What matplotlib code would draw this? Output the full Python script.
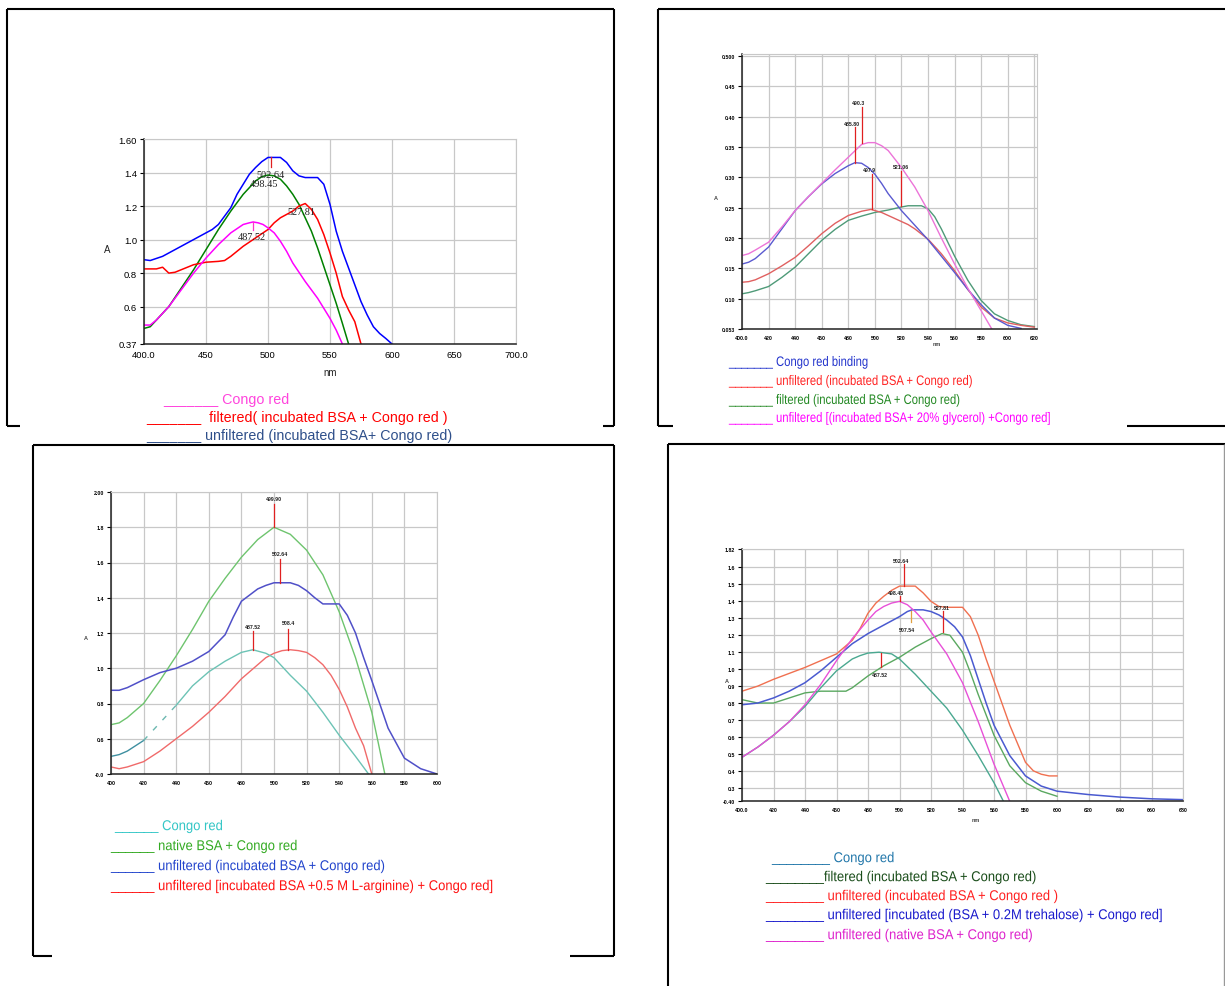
import numpy as np
import matplotlib
matplotlib.use("Agg")
import matplotlib.pyplot as plt
from matplotlib.lines import Line2D
from matplotlib.textpath import TextPath
from matplotlib.patches import PathPatch
from matplotlib.font_manager import FontProperties
from matplotlib.transforms import Affine2D

W, H = 1225, 987

# ---------------- panel 1 (top left) ----------------
p1_cr_nm = [400, 405, 410, 420, 430, 440, 450, 460, 470, 480, 485, 488, 492, 496, 500,
            505, 510, 515, 520, 530, 540, 550, 555, 560]
p1_cr_a = [0.49, 0.49, 0.52, 0.60, 0.70, 0.80, 0.89, 0.97, 1.04, 1.09, 1.10, 1.105, 1.10,
           1.09, 1.07, 1.04, 0.99, 0.93, 0.86, 0.75, 0.65, 0.53, 0.46, 0.377]
p1_native_nm = [400, 405, 410, 420, 430, 440, 450, 460, 470, 480, 490, 495, 500, 505, 510,
                515, 520, 525, 530, 535, 540, 545, 550, 555, 560, 565]
p1_native_a = [0.47, 0.48, 0.52, 0.60, 0.71, 0.82, 0.94, 1.06, 1.17, 1.27, 1.35, 1.375, 1.385,
               1.38, 1.36, 1.32, 1.27, 1.21, 1.13, 1.05, 0.95, 0.84, 0.73, 0.62, 0.50, 0.377]
p1_filt_nm = [400, 405, 410, 415, 420, 425, 430, 440, 450, 460, 465, 470, 475, 480, 490, 500,
              505, 510, 515, 520, 525, 530, 535, 540, 545, 550, 555, 560, 565, 570, 575]
p1_filt_a = [0.825, 0.825, 0.825, 0.835, 0.80, 0.805, 0.82, 0.85, 0.865, 0.87, 0.875, 0.90,
             0.93, 0.96, 1.01, 1.06, 1.10, 1.13, 1.15, 1.17, 1.20, 1.215, 1.18, 1.12, 1.03,
             0.92, 0.80, 0.66, 0.58, 0.51, 0.377]
p1_unf_nm = [400, 405, 415, 425, 435, 445, 455, 460, 465, 470, 475, 480, 485, 490, 495, 500,
             505, 510, 515, 520, 525, 530, 535, 540, 545, 550, 555, 560, 565, 570, 575, 580,
             585, 590, 595, 600]
p1_unf_a = [0.88, 0.875, 0.90, 0.94, 0.98, 1.02, 1.06, 1.09, 1.14, 1.19, 1.27, 1.33, 1.39,
            1.43, 1.465, 1.49, 1.49, 1.49, 1.46, 1.41, 1.38, 1.37, 1.37, 1.37, 1.33, 1.21,
            1.05, 0.93, 0.83, 0.73, 0.63, 0.55, 0.48, 0.44, 0.41, 0.377]

# ---------------- panel 2 (top right) ----------------
p2_bind_nm = [400, 405, 410, 420, 430, 440, 450, 460, 470, 480, 485, 490, 495, 500, 505, 510,
              520, 530, 540, 550, 560, 570, 580, 590, 600, 610]
p2_bind_a = [0.157, 0.160, 0.166, 0.185, 0.215, 0.245, 0.268, 0.289, 0.306, 0.319, 0.324,
             0.323, 0.316, 0.305, 0.290, 0.273, 0.245, 0.221, 0.197, 0.170, 0.143, 0.115,
             0.090, 0.068, 0.056, 0.051]
p2_unf_nm = [400, 405, 410, 420, 430, 440, 450, 460, 470, 480, 490, 497, 505, 515, 525, 530,
             540, 550, 560, 570, 580, 590, 600, 610, 620]
p2_unf_a = [0.127, 0.128, 0.131, 0.141, 0.154, 0.168, 0.187, 0.207, 0.224, 0.237, 0.244,
            0.247, 0.242, 0.232, 0.222, 0.215, 0.198, 0.174, 0.146, 0.115, 0.086, 0.068,
            0.060, 0.056, 0.053]
p2_filt_nm = [400, 405, 410, 420, 430, 440, 450, 460, 470, 480, 490, 500, 510, 520, 525, 530,
              535, 540, 545, 550, 560, 570, 580, 590, 600, 610, 620]
p2_filt_a = [0.108, 0.110, 0.113, 0.120, 0.135, 0.152, 0.174, 0.196, 0.214, 0.229, 0.236,
             0.242, 0.246, 0.251, 0.253, 0.253, 0.253, 0.248, 0.235, 0.215, 0.170, 0.130,
             0.097, 0.075, 0.064, 0.057, 0.054]
p2_gly_nm = [400, 405, 410, 420, 430, 440, 450, 460, 470, 480, 490, 495, 500, 505, 510, 520,
             530, 540, 550, 560, 570, 580, 588]
p2_gly_a = [0.171, 0.174, 0.180, 0.193, 0.218, 0.245, 0.268, 0.290, 0.312, 0.333, 0.354,
            0.357, 0.357, 0.352, 0.344, 0.316, 0.284, 0.245, 0.200, 0.157, 0.117, 0.080, 0.050]

# ---------------- panel 3 (bottom left) ----------------
p3_cr_nm = [400, 405, 410, 415, 420, 430, 440, 450, 460, 470, 480, 487, 495, 500, 510, 520,
            530, 540, 550, 558]
p3_cr_a = [0.50, 0.51, 0.53, 0.56, 0.59, 0.69, 0.79, 0.90, 0.98, 1.04, 1.09, 1.105, 1.085,
           1.06, 0.96, 0.87, 0.75, 0.62, 0.50, 0.40]
p3_native_nm = [400, 405, 410, 420, 430, 440, 450, 460, 470, 480, 490, 500, 510, 520, 530,
                540, 550, 560, 568]
p3_native_a = [0.68, 0.69, 0.72, 0.80, 0.93, 1.07, 1.22, 1.38, 1.51, 1.63, 1.73, 1.80, 1.76,
               1.67, 1.53, 1.32, 1.06, 0.75, 0.40]
p3_unf_nm = [400, 405, 410, 420, 430, 440, 450, 460, 470, 475, 480, 490, 495, 500, 505, 510,
             515, 520, 525, 530, 540, 545, 550, 555, 560, 570, 580, 590, 600]
p3_unf_a = [0.875, 0.875, 0.89, 0.935, 0.975, 1.00, 1.04, 1.095, 1.19, 1.29, 1.38, 1.45,
            1.47, 1.485, 1.485, 1.485, 1.47, 1.44, 1.40, 1.365, 1.365, 1.30, 1.20, 1.06,
            0.93, 0.66, 0.49, 0.43, 0.40]
p3_arg_nm = [400, 405, 410, 420, 430, 440, 450, 460, 470, 480, 490, 495, 500, 505, 510, 515,
             520, 525, 530, 535, 540, 545, 550, 555, 560]
p3_arg_a = [0.44, 0.43, 0.44, 0.47, 0.53, 0.60, 0.67, 0.75, 0.84, 0.94, 1.02, 1.06, 1.085,
            1.10, 1.105, 1.10, 1.09, 1.06, 1.02, 0.96, 0.88, 0.78, 0.66, 0.56, 0.40]

# ---------------- panel 4 (bottom right) ----------------
p4_cr_nm = [400, 410, 420, 430, 440, 450, 460, 470, 475, 480, 487, 495, 500, 510, 520, 530,
            540, 550, 560, 566]
p4_cr_a = [0.48, 0.54, 0.61, 0.69, 0.78, 0.89, 0.99, 1.06, 1.08, 1.095, 1.10, 1.09, 1.06,
           0.97, 0.87, 0.77, 0.64, 0.49, 0.33, 0.22]
p4_filt_nm = [400, 410, 420, 430, 440, 450, 460, 466, 470, 480, 490, 500, 510, 520, 527, 532,
              540, 545, 550, 555, 560, 570, 580, 590, 600]
p4_filt_a = [0.82, 0.80, 0.80, 0.83, 0.86, 0.87, 0.87, 0.87, 0.89, 0.96, 1.02, 1.07, 1.13,
             1.18, 1.21, 1.20, 1.10, 0.98, 0.85, 0.73, 0.61, 0.43, 0.33, 0.28, 0.25]
p4_unf_nm = [400, 410, 420, 430, 440, 450, 460, 470, 475, 480, 485, 490, 495, 500, 505, 510,
             515, 520, 525, 530, 540, 545, 550, 555, 560, 565, 570, 575, 580, 585, 590, 595,
             600]
p4_unf_a = [0.87, 0.90, 0.94, 0.975, 1.01, 1.05, 1.09, 1.17, 1.24, 1.33, 1.39, 1.43, 1.465,
            1.49, 1.49, 1.49, 1.45, 1.40, 1.37, 1.365, 1.365, 1.31, 1.20, 1.06, 0.93, 0.80,
            0.67, 0.56, 0.45, 0.40, 0.38, 0.37, 0.37]
p4_treh_nm = [400, 410, 420, 430, 440, 450, 460, 470, 480, 490, 500, 505, 508, 515, 520, 525,
              530, 535, 540, 545, 550, 555, 560, 570, 580, 590, 600, 620, 640, 660, 680]
p4_treh_a = [0.79, 0.80, 0.83, 0.87, 0.92, 0.99, 1.07, 1.15, 1.21, 1.26, 1.31, 1.34, 1.35,
             1.35, 1.34, 1.32, 1.29, 1.25, 1.19, 1.08, 0.94, 0.80, 0.67, 0.49, 0.37, 0.31,
             0.28, 0.26, 0.245, 0.235, 0.23]
p4_native_nm = [400, 410, 420, 430, 440, 450, 460, 470, 480, 485, 490, 495, 500, 505, 510,
                515, 520, 530, 540, 550, 560, 570]
p4_native_a = [0.48, 0.54, 0.61, 0.69, 0.79, 0.91, 1.05, 1.18, 1.29, 1.34, 1.37, 1.39, 1.40,
               1.38, 1.34, 1.29, 1.22, 1.09, 0.92, 0.69, 0.44, 0.22]

SANS = 'Liberation Sans'
SERIF = 'Liberation Serif'

fig = plt.figure(figsize=(W / 100, H / 100), dpi=100)


def px_line(xs, ys, color='black', lw=1.5):
    fig.add_artist(Line2D([x / W for x in xs], [1 - y / H for y in ys],
                          transform=fig.transFigure, color=color, lw=lw,
                          solid_capstyle='butt'))


def px_text(x, y, s, color, size, family, **kw):
    fig.text(x / W, 1 - y / H, s, color=color, fontsize=size, family=family,
             va='center', ha='left', **kw)


def narrow_text(x, y, s, color, size_pt, sx=0.82):
    # condensed sans text (no narrow face installed): squeeze the glyph outlines
    size = size_pt * 100 / 72
    tp = TextPath((0, 0), s, size=size, prop=FontProperties(family=SANS))
    tr = Affine2D().scale(sx / W, 1 / H).translate(x / W, 1 - (y + 0.36 * size) / H)
    fig.add_artist(PathPatch(tp, transform=tr + fig.transFigure, fc=color, ec='none', lw=0))


def add_panel(box, xlim, ylim, xticks, xlabels, yticks, ylabels, fs, weight):
    l, t, r, b = box
    ax = fig.add_axes([l / W, 1 - b / H, (r - l) / W, (b - t) / H])
    ax.set_xlim(*xlim)
    ax.set_ylim(*ylim)
    ax.set_xticks(xticks)
    ax.set_xticklabels(xlabels, fontsize=fs, family=SANS, weight=weight)
    ax.set_yticks(yticks)
    ax.set_yticklabels(ylabels, fontsize=fs, family=SANS, weight=weight)
    ax.grid(True, color='#c8c8c8', lw=0.9)
    ax.set_axisbelow(True)
    for s in ['top', 'right']:
        ax.spines[s].set_color('#c8c8c8')
    for s in ['left', 'bottom']:
        ax.spines[s].set_color('#222222')
        ax.spines[s].set_linewidth(1.1)
    ax.tick_params(axis='x', length=0, pad=4)
    ax.tick_params(axis='y', length=3, pad=2)
    return ax


def peak(ax, x, y0, y1, label, lx, ly, fs, family, weight='normal', color='#e02020'):
    ax.plot([x, x], [y0, y1], color=color, lw=0.9)
    ax.text(lx, ly, label, fontsize=fs, family=family, weight=weight,
            ha='center', va='center', color='#222222')


# ---- frames ----
px_line([7, 614], [10, 10]); px_line([7, 7], [10, 427]); px_line([614, 614], [10, 427])
px_line([7, 20], [427, 427]); px_line([603, 614], [427, 427])
px_line([658, 1225], [10, 10]); px_line([658, 658], [10, 427])
px_line([658, 673], [427, 427]); px_line([1127, 1225], [427, 427])
px_line([33, 614], [446, 446]); px_line([33, 33], [446, 957]); px_line([614, 614], [446, 957])
px_line([33, 52], [957, 957]); px_line([570, 614], [957, 957])
px_line([668, 1225], [445, 445]); px_line([668, 668], [445, 987])
px_line([1223.5, 1223.5], [445, 987], color='#999999', lw=1.0)

# ---- panel 1 ----
ax1 = add_panel((144, 140, 516, 345), (400, 700), (0.377, 1.6),
                np.arange(400, 701, 50), ['400.0', '450', '500', '550', '600', '650', '700.0'],
                [0.377, 0.6, 0.8, 1.0, 1.2, 1.4, 1.6],
                ['0.37', '0.6', '0.8', '1.0', '1.2', '1.4', '1.60'], 6.8, 'normal')
ax1.plot(p1_unf_nm, p1_unf_a, color='#0000ff', lw=1.1)
ax1.plot(p1_native_nm, p1_native_a, color='#008000', lw=1.1)
ax1.plot(p1_filt_nm, p1_filt_a, color='#ff0000', lw=1.1)
ax1.plot(p1_cr_nm, p1_cr_a, color='#ff00ff', lw=1.1)
peak(ax1, 502.64, 1.49, 1.435, '502.64', 502, 1.39, 7.4, SERIF)
ax1.text(497, 1.335, '498.45', fontsize=7.4, family=SERIF, ha='center', va='center', color='#222222')
ax1.text(526.7, 1.165, '527.81', fontsize=7.4, family=SERIF, ha='center', va='center', color='#222222')
peak(ax1, 487.52, 1.105, 1.06, '487.52', 487, 1.016, 7.4, SERIF, color='#ff33cc')
px_text(104, 250, 'A', '#222222', 7, SANS)
px_text(323, 373, 'nm', '#222222', 7, SANS)

px_text(163, 400, '_______ Congo red', '#ff44dd', 10.3, SANS)
px_text(146, 418, '_______  filtered( incubated BSA + Congo red )', '#ff0000', 10.3, SANS)
px_text(146, 436, '_______ unfiltered (incubated BSA+ Congo red)', '#2e4f8a', 10.3, SANS)

# ---- panel 2 ----
ax2 = add_panel((742, 55, 1037, 330), (400, 622), (0.05, 0.503),
                np.arange(400, 621, 20), ['400.0'] + [str(v) for v in range(420, 621, 20)],
                np.arange(0.05, 0.501, 0.05),
                ['0.053', '0.10', '0.15', '0.20', '0.25', '0.30', '0.35', '0.40', '0.45', '0.500'],
                3.8, 'bold')
ax2.plot(p2_filt_nm, p2_filt_a, color='#4e9a78', lw=1.0)
ax2.plot(p2_unf_nm, p2_unf_a, color='#e06060', lw=1.0)
ax2.plot(p2_bind_nm, p2_bind_a, color='#5a5ad0', lw=1.0)
ax2.plot(p2_gly_nm, p2_gly_a, color='#ec74d8', lw=1.0)
peak(ax2, 490, 0.357, 0.416, '490.3', 488, 0.423, 3.8, SANS, 'bold')
peak(ax2, 485, 0.324, 0.382, '485.80', 483, 0.389, 3.8, SANS, 'bold')
peak(ax2, 497.5, 0.247, 0.305, '497.9', 496, 0.312, 3.8, SANS, 'bold')
peak(ax2, 520, 0.253, 0.311, '521.06', 520, 0.318, 3.8, SANS, 'bold')
px_text(714, 198, 'A', '#444444', 4, SANS, weight='bold')
px_text(933, 344, 'nm', '#444444', 4, SANS, weight='bold')

narrow_text(729, 362, '_______ Congo red binding', '#2233cc', 9.9)
narrow_text(729, 381, '_______ unfiltered (incubated BSA + Congo red)', '#ff2222', 9.9)
narrow_text(729, 400, '_______ filtered (incubated BSA + Congo red)', '#228822', 9.9)
narrow_text(729, 418, '_______ unfiltered [(incubated BSA+ 20% glycerol) +Congo red]', '#ff00ff', 9.9)

# ---- panel 3 ----
ax3 = add_panel((111, 493, 437, 775), (400, 600), (0.4, 2.0),
                np.arange(400, 601, 20), ['400'] + [str(v) for v in range(420, 601, 20)],
                np.arange(0.4, 2.01, 0.2),
                ['-0.0', '0.6', '0.8', '1.0', '1.2', '1.4', '1.6', '1.8', '2.00'],
                3.8, 'bold')
ax3.plot(p3_native_nm, p3_native_a, color='#6ec46e', lw=1.0)
ax3.plot(p3_unf_nm, p3_unf_a, color='#5050c8', lw=1.1)
ax3.plot(p3_arg_nm, p3_arg_a, color='#f06a6a', lw=1.0)
ax3.plot(p3_cr_nm[:5], p3_cr_a[:5], color='#3e8fa0', lw=1.0)
ax3.plot(p3_cr_nm[4:7], p3_cr_a[4:7], color='#6cb8b0', lw=1.0, ls=(0, (4, 6)))
ax3.plot(p3_cr_nm[6:], p3_cr_a[6:], color='#6cc3b5', lw=1.0)
peak(ax3, 500, 1.80, 1.933, '499.90', 500, 1.962, 3.8, SANS, 'bold')
peak(ax3, 503.6, 1.485, 1.62, '502.64', 503.6, 1.65, 3.8, SANS, 'bold')
peak(ax3, 487.2, 1.105, 1.21, '487.52', 487.2, 1.238, 3.8, SANS, 'bold')
peak(ax3, 508.7, 1.105, 1.225, '508.4', 508.7, 1.257, 3.8, SANS, 'bold')
px_text(84, 638, 'A', '#444444', 4, SANS, weight='bold')

narrow_text(115, 826, '______ Congo red', '#33c6c6', 10.3, 0.91)
narrow_text(111, 846, '______ native BSA + Congo red', '#33aa22', 10.3, 0.91)
narrow_text(111, 866, '______ unfiltered (incubated BSA + Congo red)', '#2244cc', 10.3, 0.91)
narrow_text(111, 886, '______ unfiltered [incubated BSA +0.5 M L-arginine) + Congo red]', '#ff1111', 10.3, 0.91)

# ---- panel 4 ----
ax4 = add_panel((742, 550, 1183, 802), (400, 680), (0.222, 1.709),
                np.arange(400, 681, 20), ['400.0'] + [str(v) for v in range(420, 681, 20)],
                [0.222] + list(np.arange(0.3, 1.65, 0.1)) + [1.709],
                ['-0.40', '0.3', '0.4', '0.5', '0.6', '0.7', '0.8', '0.9', '1.0', '1.1',
                 '1.2', '1.3', '1.4', '1.5', '1.6', '1.82'],
                3.8, 'bold')
ax4.plot(p4_unf_nm, p4_unf_a, color='#f07050', lw=1.0)
ax4.plot(p4_filt_nm, p4_filt_a, color='#5aa860', lw=1.0)
ax4.plot(p4_treh_nm, p4_treh_a, color='#4a5ad0', lw=1.1)
ax4.plot(p4_cr_nm, p4_cr_a, color='#4aa890', lw=1.0)
ax4.plot(p4_native_nm, p4_native_a, color='#e850d8', lw=1.0)
peak(ax4, 502.64, 1.49, 1.62, '502.64', 501, 1.64, 3.8, SANS, 'bold')
peak(ax4, 500, 1.40, 1.43, '498.45', 497.9, 1.45, 3.8, SANS, 'bold')
peak(ax4, 507.4, 1.344, 1.276, '507.54', 505, 1.236, 3.8, SANS, 'bold', color='#e0a040')
peak(ax4, 527.4, 1.217, 1.344, '527.81', 527, 1.364, 3.8, SANS, 'bold')
peak(ax4, 488.4, 1.098, 1.01, '487.52', 487.4, 0.97, 3.8, SANS, 'bold')
px_text(725, 682, 'A', '#444444', 4, SANS, weight='bold')
px_text(972, 820, 'nm', '#444444', 4, SANS, weight='bold')

narrow_text(772, 858, '________ Congo red', '#2277aa', 10.3, 0.91)
narrow_text(766, 877, '________filtered (incubated BSA + Congo red)', '#1a4d1a', 10.3, 0.91)
narrow_text(766, 896, '________ unfiltered (incubated BSA + Congo red )', '#ff2020', 10.3, 0.91)
narrow_text(766, 915, '________ unfiltered [incubated (BSA + 0.2M trehalose) + Congo red]', '#1a1acc', 10.3, 0.91)
narrow_text(766, 935, '________ unfiltered (native BSA + Congo red)', '#dd22cc', 10.3, 0.91)

fig.savefig('out.png', dpi=100)
